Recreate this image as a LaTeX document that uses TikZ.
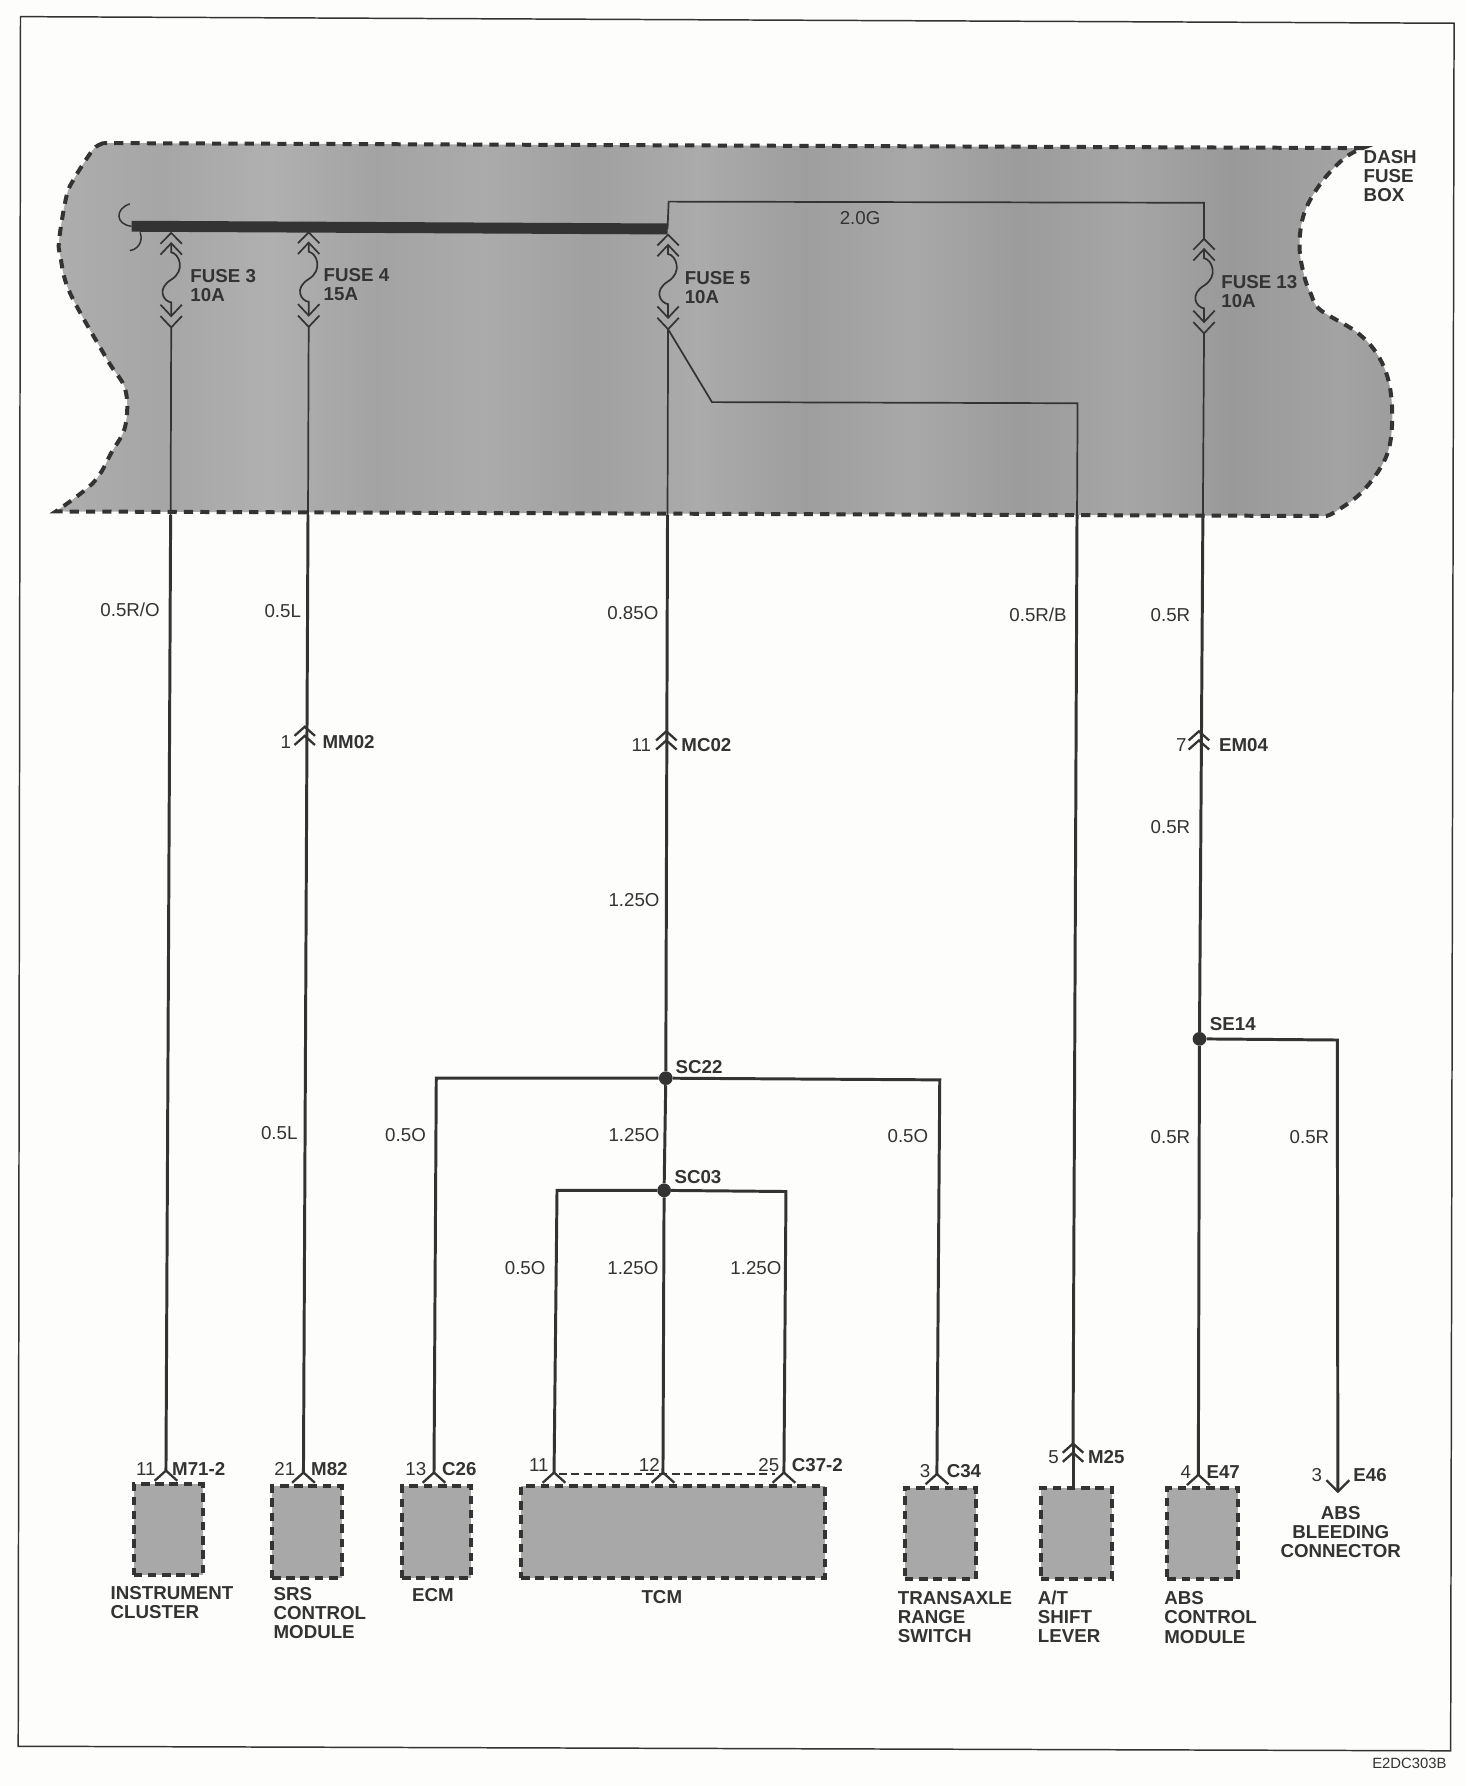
\documentclass[tikz,border=0pt]{standalone}
\usepackage{fontspec}
\usetikzlibrary{calc}
\setmainfont{Liberation Sans}
\definecolor{ink}{HTML}{333333}
\definecolor{paper}{HTML}{FDFDFB}
\pgfdeclarehorizontalshading{bands}{100bp}{
 color(0bp)=(black!26); color(5bp)=(black!33); color(9bp)=(black!30); color(13bp)=(black!34); color(17bp)=(black!31); color(21bp)=(black!36);
 color(25bp)=(black!32); color(29bp)=(black!35); color(33bp)=(black!31); color(37bp)=(black!36); color(41bp)=(black!33); color(45bp)=(black!37);
 color(49bp)=(black!33); color(53bp)=(black!38); color(57bp)=(black!34); color(61bp)=(black!39); color(65bp)=(black!35); color(69bp)=(black!40);
 color(73bp)=(black!36); color(77bp)=(black!41); color(81bp)=(black!37); color(85bp)=(black!40); color(89bp)=(black!35); color(93bp)=(black!34); color(100bp)=(black!24)}
\tikzset{
 x=0.9985pt,y=-0.9985pt,
 thin wire/.style={draw=ink,line width=1.5pt},
 wire/.style={draw=ink,line width=2.6pt},
 lbl/.style={inner sep=0pt,text=ink,anchor=west,font=\fontsize{16.4}{16.8}\selectfont},
 blbl/.style={lbl,align=left,font=\fontsize{16.4}{16.8}\selectfont\bfseries},
 cname/.style={blbl,align=left},
 pinno/.style={lbl,anchor=center},
 comp/.style={draw=ink,fill=black!34,line width=3.5pt,dash pattern=on 7.5pt off 5pt,inner sep=0pt,minimum width=#1,minimum height=80pt,anchor=north west},
 dot/.style={circle,fill=ink,inner sep=0pt,minimum size=12pt},
 pinfork/.pic={\draw[wire,line width=2pt] (-10,9) -- (0,0) -- (10,9);},
 dblconn/.pic={\draw[wire,line width=2pt] (-9,8) -- (0,0) -- (9,8) (-9,16) -- (0,8) -- (9,16);},
 fusesym/.pic={
  \draw[thin wire] (-9.4,9.5) -- (0,0) -- (9.4,9.5) (-9.4,19) -- (0,9) -- (9.4,19);
  \draw[thin wire] (0,10) -- (0,17) .. controls (7,18) and (13,33) .. (0,41) .. controls (-13,49) and (-7,60) .. (0,61) -- (0,73);
  \draw[thin wire] (-9.4,63) -- (0,73) -- (9.4,63) (-9.4,73) -- (0,83) -- (9.4,73);},
}
\def\leftedge{(91,125.6) (84,129) (77.4,137.3) (65,157) (58.4,172) (52,210) (53,225) (61.4,257) (94,315.5) (110,342) (110,374) (98,397) (82,423.6) (49,449)}
\def\rightedge{(1163,453) (1171,450) (1195.6,432) (1216,403) (1222,374) (1220,339) (1210,312.5) (1191.6,292) (1159,272) (1151,258.5) (1145,242.5) (1140.8,216) (1145,187) (1159.7,160.6) (1180,139) (1196.3,130)}
\begin{document}
\begin{tikzpicture}
\useasboundingbox (0,0) rectangle (1287,1567.9);
\fill[paper] (0,0) rectangle (1287,1567.9);
% page frame
\draw[ink,line width=1.3pt] (18,14.6) -- (1276.5,20.4) -- (1273.5,1537) -- (16,1533) -- cycle;
% dash fuse box
\shade[shading=bands] plot[smooth,tension=0.6] coordinates {\leftedge} -- plot[smooth,tension=0.6] coordinates {\rightedge} -- cycle;
\draw[ink,line width=3.5pt,dash pattern=on 8pt off 6.3pt] plot[smooth,tension=0.6] coordinates {\leftedge} -- plot[smooth,tension=0.6] coordinates {\rightedge} -- cycle;
% bus bar
\coordinate (busL) at (115.6,198.6);
\coordinate (busR) at (586,201);
\draw[ink,line width=9.6pt] (busL) -- (busR);
\draw[thin wire,line width=1.3pt] (114,179) .. controls (101,183) and (101,197) .. (115.4,198.6);
\draw[thin wire,line width=1.3pt] (123,204) .. controls (126,212) and (121,219) .. (114,220);
% fuse symbols
\coordinate (f3) at (150.3,204.5);
\coordinate (f4) at (271,204);
\coordinate (f5) at (586.5,206);
\coordinate (f13) at (1057,209.7);
\path (f3) pic {fusesym} (f4) pic {fusesym} (f5) pic {fusesym} (f13) pic {fusesym};
\coordinate (f3b) at (150.3,287.5);
\coordinate (f4b) at (271,287);
\coordinate (f5b) at (586.5,289);
\coordinate (f13b) at (1057,292.7);
% components
\node[comp=60.7pt] (ic) at (115.6,1301) {};
\node[comp=61pt] (srs) at (237,1303) {};
\node[comp=60.7pt] (ecm) at (351.3,1303) {};
\node[comp=266pt] (tcm) at (455.8,1303) {};
\node[comp=62.5pt] (trs) at (792.5,1304.4) {};
\node[comp=62.6pt] (atl) at (912,1304.4) {};
\node[comp=62pt] (abs) at (1023,1304.4) {};
% pin tips
\coordinate (p1) at (145.7,1291);
\coordinate (p2) at (266.4,1292.7);
\coordinate (p3) at (381,1292.7);
\coordinate (p4) at (486.4,1292.7);
\coordinate (p5) at (582,1292.7);
\coordinate (p6) at (688.2,1292.7);
\coordinate (p7) at (822.5,1294);
\coordinate (p8) at (1052,1294.7);
\path (p1) pic {pinfork} (p2) pic {pinfork} (p3) pic {pinfork} (p4) pic {pinfork} (p5) pic {pinfork} (p6) pic {pinfork} (p7) pic {pinfork} (p8) pic {pinfork};
\coordinate (d1) at ($(p4)+(4,1.5)$);
\coordinate (d2) at ($(p6)+(-8,1.5)$);
\draw[ink,line width=1.6pt,dash pattern=on 7pt off 4pt] (d1) -- (d2);
% inline connectors
\coordinate (mm) at (267.5,638);
\coordinate (mc) at (585,642);
\coordinate (em) at (1052.5,642);
\coordinate (m25) at (942,1267.3);
\path (mm) pic {dblconn} (mc) pic {dblconn} (em) pic {dblconn} (m25) pic {dblconn};
% junctions
\node[dot] (sc22) at (584.5,946.5) {};
\node[dot] (sc03) at (583,1045) {};
\node[dot] (se14) at (1053,912) {};
% wires inside box
\coordinate (g3) at (149.8,452);
\coordinate (g4) at (270.4,452);
\coordinate (g5) at (586,452);
\coordinate (g13) at (1056,452);
\coordinate (g8) at (945.5,452);
\coordinate (top5) at (587,177);
\coordinate (top13) at (1057,178);
\coordinate (bend1) at (625,353);
\coordinate (bend2) at (946,354);
\draw[thin wire] (f3b) -- (g3);
\draw[thin wire] (f4b) -- (g4);
\draw[thin wire] (f5b) -- (g5);
\draw[thin wire] (f13b) -- (g13);
\draw[thin wire] (busR) -- (top5) -- (top13) -- (f13);
\draw[thin wire] (f5b) -- (bend1) -- (bend2) -- (g8);
% wires below box
\draw[wire] (g3) -- (p1);
\draw[wire] (g4) -- (p2);
\draw[wire] (g5) -- (sc22);
\draw[wire] (sc22) -- (sc03) -- (p5);
\draw[wire] (g8) -- (m25);
\draw[wire] (m25) -- (atl.north -| m25);
\draw[wire] (g13) -- (se14) -- (p8);
\coordinate (c22l) at (383,946.5);
\coordinate (c22r) at (825,948);
\coordinate (c03l) at (489,1045);
\coordinate (c03r) at (690,1046);
\coordinate (se14r) at (1174,913);
\coordinate (e46) at (1174.5,1309.4);
\draw[wire] (sc22) -- (c22l) -- (p3);
\draw[wire] (sc22) -- (c22r) -- (p7);
\draw[wire] (sc03) -- (c03l) -- (p4);
\draw[wire] (sc03) -- (c03r) -- (p6);
\draw[wire] (se14) -- (se14r) -- (e46);
\draw[wire,line width=2pt] ($(e46)+(-10,-10)$) -- (e46) -- ($(e46)+(10,-10)$);
% fuse labels
\node[blbl] (t1) at (167,250.5) {FUSE 3\\10A};
\node[blbl] (t2) at (284,249.5) {FUSE 4\\15A};
\node[blbl] (t3) at (601,252.5) {FUSE 5\\10A};
\node[blbl] (t4) at (1072,256) {FUSE 13\\10A};
\node[blbl] (t5) at (1197,154.5) {DASH\\FUSE\\BOX};
\node[lbl,anchor=center] (t6) at (755,191) {2.0G};
% wire labels
\node[lbl] (w1) at (88,535) {0.5R/O};
\node[lbl] (w2) at (232,536) {0.5L};
\node[lbl] (w3) at (533,538) {0.85O};
\node[lbl] (w4) at (886,540) {0.5R/B};
\node[lbl] (w5) at (1010,540) {0.5R};
\node[lbl] (w6) at (534,790) {1.25O};
\node[lbl] (w7) at (1010,726) {0.5R};
\node[lbl] (w8) at (229,995) {0.5L};
\node[lbl] (w9) at (338,996) {0.5O};
\node[lbl] (w10) at (534,996) {1.25O};
\node[lbl] (w11) at (779,997) {0.5O};
\node[lbl] (w12) at (1010,998) {0.5R};
\node[lbl] (w13) at (1132,998) {0.5R};
\node[lbl] (w14) at (443,1113) {0.5O};
\node[lbl] (w15) at (533,1113) {1.25O};
\node[lbl] (w16) at (641,1113) {1.25O};
% connector ids
\node[pinno] (n1) at (251,651) {1};
\node[blbl] (i1) at (283,651) {MM02};
\node[pinno] (n2) at (563,654) {11};
\node[blbl] (i2) at (598,654) {MC02};
\node[pinno] (n3) at (1037,654) {7};
\node[blbl] (i3) at (1070,654) {EM04};
\node[blbl] (i4) at (593,937) {SC22};
\node[blbl] (i5) at (592,1033) {SC03};
\node[blbl] (i6) at (1062,899) {SE14};
\node[pinno] (n4) at (128,1290) {11};
\node[blbl] (i7) at (151,1290) {M71-2};
\node[pinno] (n5) at (250,1290) {21};
\node[blbl] (i8) at (273,1290) {M82};
\node[pinno] (n6) at (365,1290) {13};
\node[blbl] (i9) at (388,1290) {C26};
\node[pinno] (n7) at (473,1286) {11};
\node[pinno] (n8) at (570,1286) {12};
\node[pinno] (n9) at (675,1286) {25};
\node[blbl] (i10) at (695,1286) {C37-2};
\node[pinno] (n10) at (812,1291) {3};
\node[blbl] (i11) at (831,1291) {C34};
\node[pinno] (n11) at (925,1279) {5};
\node[blbl] (i12) at (955,1279) {M25};
\node[pinno] (n12) at (1041,1292) {4};
\node[blbl] (i13) at (1059,1292) {E47};
\node[pinno] (n13) at (1156,1295) {3};
\node[blbl] (i14) at (1188,1295) {E46};
% component names
\node[cname] (c1) at (97,1407) {INSTRUMENT\\CLUSTER};
\node[cname] (c2) at (240,1416) {SRS\\CONTROL\\MODULE};
\node[cname,anchor=center] (c3) at (380,1400) {ECM};
\node[cname,anchor=center] (c4) at (581,1402) {TCM};
\node[cname] (c5) at (788,1419.5) {TRANSAXLE\\RANGE\\SWITCH};
\node[cname] (c6) at (911,1419.5) {A/T\\SHIFT\\LEVER};
\node[cname] (c7) at (1022,1420) {ABS\\CONTROL\\MODULE};
\node[cname,anchor=center,align=center] (c8) at (1177,1345) {ABS\\BLEEDING\\CONNECTOR};
\node[lbl,anchor=east,font=\fontsize{13}{15}\selectfont] (code) at (1270,1548) {E2DC303B};
\end{tikzpicture}
\end{document}
